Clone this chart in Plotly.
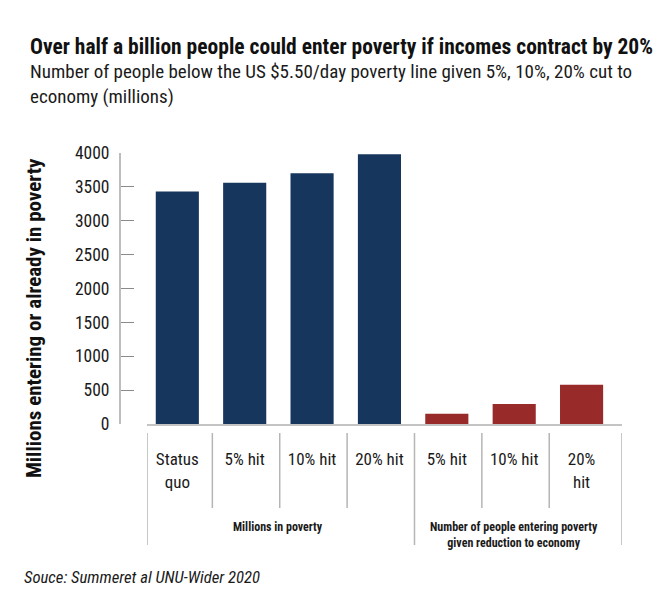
import plotly.graph_objects as go

# ---- data ----
categories = ["Status<br>quo", "5% hit", "10% hit", "20% hit", "5% hit", "10% hit", "20%<br>hit"]
in_poverty = [3430, 3560, 3700, 3980]          # Millions in poverty
entering = [150, 295, 580]                      # Number entering poverty
group_labels = ["Millions in poverty",
                "Number of people entering poverty<br>given reduction to economy"]
y_ticks = [0, 500, 1000, 1500, 2000, 2500, 3000, 3500, 4000]

BLUE = "#17365d"
RED = "#982a2a"
FONT = "Liberation Sans Narrow, Roboto Condensed, Liberation Sans, Arial"

W, H = 672, 600
ML, MR, MT, MB = 147, 49.5, 153, 176
PW, PH = W - ML - MR, H - MT - MB

def px(x):
    return (x - ML) / PW

def py(y):
    return (H - MB - y) / PH

n1 = len(in_poverty)
xs1 = list(range(n1))
xs2 = list(range(n1, n1 + len(entering)))

fig = go.Figure()
fig.add_trace(go.Bar(x=xs1, y=in_poverty, marker_color=BLUE, width=0.64,
                     marker_line_width=0, showlegend=False))
fig.add_trace(go.Bar(x=xs2, y=entering, marker_color=RED, width=0.64,
                     marker_line_width=0, showlegend=False))

xmin, xmax = -0.45, len(categories) - 0.4

fig.update_layout(
    width=W, height=H,
    margin=dict(l=ML, r=MR, t=MT, b=MB, pad=0, autoexpand=False),
    plot_bgcolor="white", paper_bgcolor="white",
    font=dict(family=FONT, color="#1a1a1a"),
    xaxis=dict(range=[xmin, xmax], tickmode="array", automargin=False,
               tickvals=list(range(len(categories))), ticktext=categories,
               showline=True, linecolor="#c4c4c4", linewidth=2,
               showgrid=False, zeroline=False, ticks="",
               tickfont=dict(size=17, family=FONT, color="#1a1a1a"),
               ticklabelstandoff=19),
    yaxis=dict(range=[0, 4000], tickmode="array", tickvals=y_ticks,
               anchor="free", position=0, shift=-27, autoshift=False,
               automargin=False,
               showline=True, linecolor="#bdbdbd", linewidth=2,
               ticks="inside", ticklen=13, tickcolor="#8a8a8a", tickwidth=1,
               showgrid=False, zeroline=False,
               tickfont=dict(size=17.5, family=FONT, color="#1a1a1a"),
               ticklabelstandoff=6),
)

# divider lines under the x axis
bounds = [xmin] + [i + 0.52 for i in range(len(categories) - 1)] + [xmax]
for i, b in enumerate(bounds):
    outer = i in (0, n1, len(bounds) - 1)
    fig.add_shape(type="line", xref="x", yref="paper", x0=b, x1=b,
                  y0=py(433), y1=py(545 if outer else 508),
                  line=dict(color="#b5b5b5", width=1.5))

# group labels
fig.add_annotation(x=(n1 - 1) / 2, y=py(527), xref="x", yref="paper",
                   text="<b>" + group_labels[0] + "</b>", showarrow=False,
                   font=dict(size=12, family=FONT, color="#1a1a1a"),
                   xanchor="center", yanchor="middle")
fig.add_annotation(x=(xs2[0] + xs2[-1]) / 2, y=py(535), xref="x", yref="paper",
                   text="<b>" + group_labels[1] + "</b>", showarrow=False,
                   font=dict(size=12, family=FONT, color="#1a1a1a"),
                   xanchor="center", yanchor="middle")

# titles
fig.add_annotation(x=px(28), y=py(47), xref="paper", yref="paper",
                   text="<b>Over half a billion people could enter poverty if incomes contract by 20%</b>",
                   showarrow=False, xanchor="left", yanchor="middle",
                   font=dict(size=21.5, family=FONT, color="#111"))
fig.add_annotation(x=px(28), y=py(84), xref="paper", yref="paper",
                   text="Number of people below the US $5.50/day poverty line given 5%, 10%, 20% cut to<br>economy (millions)",
                   showarrow=False, xanchor="left", yanchor="middle", align="left",
                   font=dict(size=19, family=FONT, color="#1a1a1a"))
fig.add_annotation(x=px(34), y=py(318), xref="paper", yref="paper",
                   text="<b>Millions entering or already in poverty</b>", textangle=-90,
                   showarrow=False, xanchor="center", yanchor="middle",
                   font=dict(size=21, family=FONT, color="#111"))
fig.add_annotation(x=px(22), y=py(577), xref="paper", yref="paper",
                   text="<i>Souce: Summeret al UNU-Wider 2020</i>",
                   showarrow=False, xanchor="left", yanchor="middle",
                   font=dict(size=16.7, family=FONT, color="#1a1a1a"))

fig.write_html("out.html", config={"displayModeBar": False},
               post_script="document.body.style.margin='0px';")
